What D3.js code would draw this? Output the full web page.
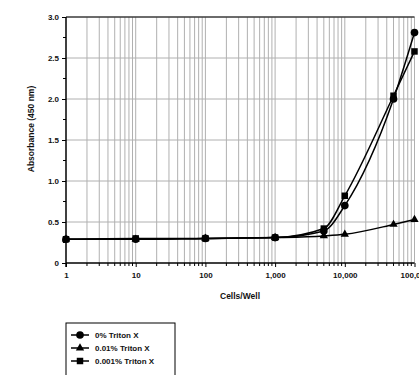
<!DOCTYPE html>
<html>
<head>
<meta charset="utf-8">
<script src="https://cdn.jsdelivr.net/npm/d3@7"></script>
<style>
  html, body { margin: 0; padding: 0; background: #fff; }
  svg { display: block; font-family: "Liberation Sans", Arial, sans-serif; }
</style>
</head>
<body>
<svg id="chart" width="419" height="375"></svg>
<script>
// Cell counts per well (x) and absorbance readings for each detergent level
const cellsPerWell = [1, 10, 100, 1000, 5000, 10000, 50000, 100000];
const triton0 = [0.29, 0.29, 0.30, 0.31, 0.39, 0.70, 2.00, 2.81];
const triton001 = [0.29, 0.29, 0.30, 0.31, 0.33, 0.35, 0.47, 0.53];
const triton0001 = [0.29, 0.30, 0.30, 0.31, 0.42, 0.82, 2.04, 2.58];
const seriesNames = ["0% Triton X", "0.01% Triton X", "0.001% Triton X"];
const seriesSymbols = ["circle", "triangle", "square"];
const xTickValues = [1, 10, 100, 1000, 10000, 100000];
const xTickLabels = ["1", "10", "100", "1,000", "10,000", "100,000"];
const yTickValues = [0, 0.5, 1.0, 1.5, 2.0, 2.5, 3.0];
const yTickLabels = ["0", "0.5", "1.0", "1.5", "2.0", "2.5", "3.0"];

const series = [
  { name: seriesNames[0], symbol: seriesSymbols[0], values: triton0 },
  { name: seriesNames[1], symbol: seriesSymbols[1], values: triton001 },
  { name: seriesNames[2], symbol: seriesSymbols[2], values: triton0001 }
];

const svg = d3.select("#chart");
const plot = { left: 66, right: 414.5, top: 17, bottom: 263 };

const x = d3.scaleLog().domain([1, 100000]).range([plot.left, plot.right]);
const y = d3.scaleLinear().domain([0, 3]).range([plot.bottom, plot.top]);

// minor log positions: 2..9 in each decade
const minorX = [];
for (let d = 1; d < 100000; d *= 10) {
  for (let m = 2; m <= 9; m++) minorX.push(d * m);
}
const allX = xTickValues.concat(minorX);

const grid = svg.append("g").attr("stroke", "#b0b0b0").attr("stroke-width", 1);
grid.selectAll("line.v").data(allX.filter(v => v > 1)).enter().append("line")
  .attr("x1", d => x(d)).attr("x2", d => x(d))
  .attr("y1", plot.top).attr("y2", plot.bottom);
grid.selectAll("line.h").data(yTickValues.filter(v => v > 0)).enter().append("line")
  .attr("x1", plot.left).attr("x2", plot.right)
  .attr("y1", d => y(d)).attr("y2", d => y(d));

// top frame line
svg.append("line").attr("x1", plot.left).attr("x2", plot.right)
  .attr("y1", plot.top).attr("y2", plot.top)
  .attr("stroke", "#000").attr("stroke-width", 1);

// Y axis with minor ticks
const yAxis = d3.axisLeft(y).tickValues(yTickValues)
  .tickFormat((d, i) => yTickLabels[i]).tickSize(4).tickPadding(3);
const gy = svg.append("g").attr("transform", `translate(${plot.left},0)`).call(yAxis);
gy.selectAll("line.minor").data(d3.range(0.25, 3, 0.5)).enter().append("line")
  .attr("x1", -3).attr("x2", 0).attr("y1", d => y(d)).attr("y2", d => y(d))
  .attr("stroke", "#000");

// X axis with minor ticks
const xAxis = d3.axisBottom(x).tickValues(xTickValues)
  .tickFormat((d, i) => xTickLabels[i]).tickSize(4).tickPadding(5);
const gx = svg.append("g").attr("transform", `translate(0,${plot.bottom})`).call(xAxis);
gx.selectAll("line.minor").data(minorX).enter().append("line")
  .attr("x1", d => x(d)).attr("x2", d => x(d)).attr("y1", 0).attr("y2", 3)
  .attr("stroke", "#000");

[gx, gy].forEach(g => {
  g.select(".domain").attr("stroke", "#000").attr("stroke-width", 1.5);
  g.selectAll(".tick line").attr("stroke", "#000");
  g.selectAll("text").attr("font-size", 8).attr("font-weight", "bold")
    .attr("font-family", "Liberation Sans, Arial, sans-serif").attr("fill", "#111");
});
gx.select(".domain").attr("d", `M${plot.left},0H${plot.right}`);
gy.select(".domain").attr("d", `M0,${plot.top}V${plot.bottom + 4}`);

// Axis titles
svg.append("text").attr("x", 240).attr("y", 299).attr("text-anchor", "middle")
  .attr("font-size", 8.5).attr("font-weight", "bold").attr("fill", "#111")
  .text("Cells/Well");
svg.append("text").attr("transform", "translate(34,129) rotate(-90)")
  .attr("text-anchor", "middle").attr("font-size", 8.5).attr("font-weight", "bold")
  .attr("fill", "#111").text("Absorbance (450 nm)");

// Markers
const symbolMap = {
  circle: d3.symbol().type(d3.symbolCircle).size(46),
  triangle: d3.symbol().type(d3.symbolTriangle).size(30),
  square: d3.symbol().type(d3.symbolSquare).size(42)
};

const line = d3.line().x(d => x(d[0])).y(d => y(d[1])).curve(d3.curveMonotoneX);

series.forEach(s => {
  const pts = cellsPerWell.map((c, i) => [c, s.values[i]]);
  svg.append("path").datum(pts).attr("d", line)
    .attr("fill", "none").attr("stroke", "#000").attr("stroke-width", 1.5);
});
series.forEach(s => {
  const pts = cellsPerWell.map((c, i) => [c, s.values[i]]);
  svg.append("g").selectAll("path").data(pts).enter().append("path")
    .attr("d", symbolMap[s.symbol])
    .attr("transform", d => `translate(${x(d[0])},${y(d[1])})`)
    .attr("fill", "#000");
});

// Legend
const legend = svg.append("g").attr("transform", "translate(66,323)");
legend.append("rect").attr("x", 0).attr("y", 0).attr("width", 109).attr("height", 60)
  .attr("fill", "#fff").attr("stroke", "#000").attr("stroke-width", 1);
series.forEach((s, i) => {
  const row = legend.append("g").attr("transform", `translate(0,${12 + i * 13})`);
  row.append("line").attr("x1", 5).attr("x2", 23).attr("y1", 0).attr("y2", 0)
    .attr("stroke", "#000").attr("stroke-width", 1.5);
  row.append("path").attr("d", symbolMap[s.symbol]).attr("transform", "translate(14,0)")
    .attr("fill", "#000");
  row.append("text").attr("x", 29).attr("y", 3).attr("font-size", 8)
    .attr("font-weight", "bold").attr("fill", "#111").text(s.name);
});
</script>
</body>
</html>
